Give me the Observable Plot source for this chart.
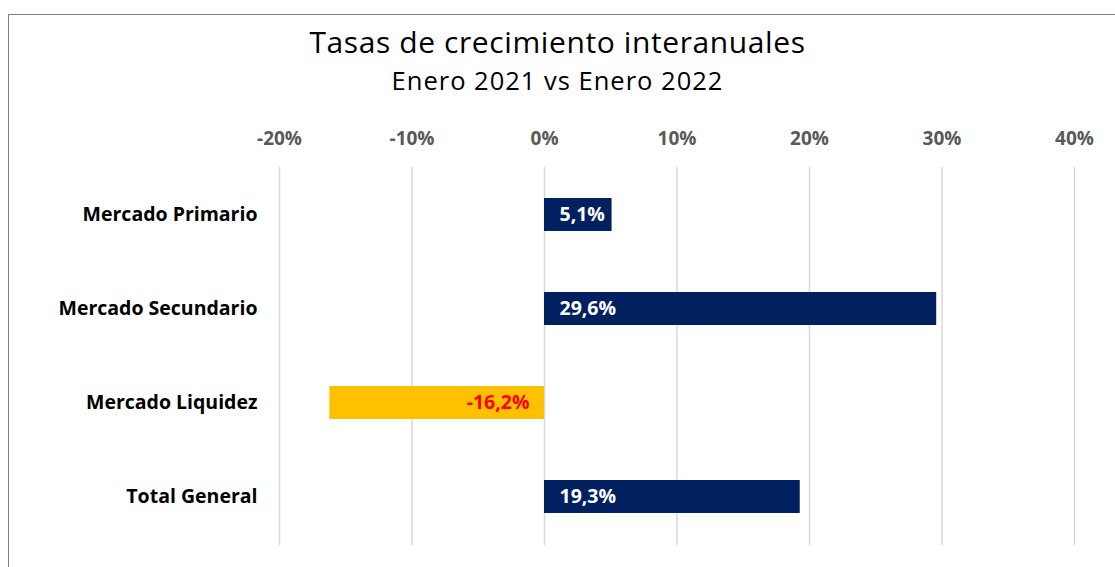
<!DOCTYPE html>
<html><head><meta charset="utf-8">
<script src="https://cdn.jsdelivr.net/npm/d3@7"></script>
<script src="https://cdn.jsdelivr.net/npm/@observablehq/plot@0.6"></script>
<style>
body{margin:0;width:1115px;height:567px;overflow:hidden;background:#fff;font-family:"Open Sans",sans-serif;position:relative;}
#frame{position:absolute;left:8px;top:14px;width:1200px;height:700px;border:1.5px solid #7f7f7f;}
#chart{position:absolute;left:0;top:0;}
#title{position:absolute;left:0;width:1115px;top:26.7px;text-align:center;font-size:30px;letter-spacing:0.6px;color:#000;line-height:1;white-space:nowrap;}
#subtitle{position:absolute;left:0;width:1115px;top:68px;text-align:center;font-size:25.5px;letter-spacing:1px;color:#000;line-height:1;white-space:nowrap;}
</style></head><body>
<div id="frame"></div>
<div id="chart"></div>
<div id="title">Tasas de crecimiento interanuales</div>
<div id="subtitle">Enero 2021 vs Enero 2022</div>
<script>
const categories = ["Mercado Primario", "Mercado Secundario", "Mercado Liquidez", "Total General"];
const values = [0.051, 0.296, -0.162, 0.193];
const tickValues = [-0.2, -0.1, 0, 0.1, 0.2, 0.3, 0.4];

const data = categories.map((c, i) => ({category: c, value: values[i]}));
const fmt = v => (v * 100).toFixed(1).replace(".", ",") + "%";

const chart = Plot.plot({
  width: 1115,
  height: 567,
  marginTop: 167,
  marginBottom: 22,
  marginLeft: 279,
  marginRight: 41,
  x: {domain: [-0.2, 0.4]},
  y: {domain: categories, paddingInner: 0.645, paddingOuter: 0.32},
  style: {background: "transparent", fontFamily: "'Open Sans', sans-serif", overflow: "visible"},
  marks: [
    Plot.gridX(tickValues, {stroke: "#d9d9d9", strokeOpacity: 1, strokeWidth: 1.5}),
    Plot.barX(data, {x: "value", y: "category", fill: d => d.value < 0 ? "#ffc000" : "#002060"}),
    Plot.text(data.filter(d => d.value >= 0), {x: () => 0, y: "category", text: d => fmt(d.value), textAnchor: "start", dx: 15, fill: "#ffffff", fontSize: 19.5, fontWeight: "bold"}),
    Plot.text(data.filter(d => d.value < 0), {x: () => 0, y: "category", text: d => fmt(d.value), textAnchor: "end", dx: -15, fill: "#ff0000", fontSize: 19.5, fontWeight: "bold"}),
    Plot.axisX(tickValues, {anchor: "top", tickSize: 0, tickPadding: 23, tickFormat: d => Math.round(d * 100) + "%", fontSize: 19, fontWeight: "bold", fill: "#595959", label: null}),
    Plot.axisY({tickSize: 0, tickPadding: 22, fontSize: 19.5, fontWeight: "bold", fill: "#000000", label: null})
  ]
});
document.getElementById("chart").appendChild(chart);
</script>
</body></html>
